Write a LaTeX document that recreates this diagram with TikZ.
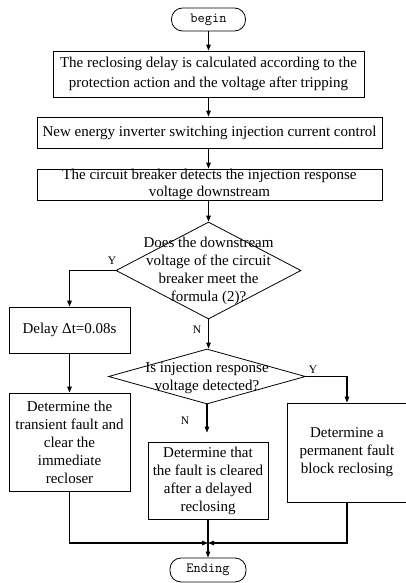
\documentclass[tikz,border=0pt]{standalone}
\usepackage{fontspec}
\setmainfont{Liberation Serif}
\usetikzlibrary{shapes.geometric,shadows,arrows.meta}
\begin{document}
\begin{tikzpicture}[x=1pt,y=-1pt,
  every node/.style={font=\fontsize{15}{18}\selectfont},
  boxnode/.style={draw,line width=0.8pt,fill=white,inner sep=0pt,align=center,
    drop shadow={shadow xshift=1.3pt,shadow yshift=-1.3pt,fill=black!40,opacity=1}},
  termnode/.style={draw,line width=0.8pt,rounded corners=11pt,inner sep=0pt,
    font=\ttfamily\fontsize{14}{16}\selectfont},
  decision/.style={draw,diamond,line width=0.8pt,inner sep=0pt},
  dtext/.style={align=center,inner sep=0pt,font=\fontsize{15}{18}\selectfont},
  yn/.style={font=\fontsize{11.5}{13}\selectfont,inner sep=0pt},
  flow/.style={line width=1.1pt,-{Triangle[length=6pt,width=4.5pt]}},
  plain/.style={line width=1.1pt}]
\useasboundingbox (0,0) rectangle (406,583);
\node[termnode,minimum width=74pt,minimum height=23pt] (begin) at (208.5,19.5) {begin};
\node[boxnode,minimum width=311pt,minimum height=46pt,font=\fontsize{15}{19.5}\selectfont] (b1) at (208.5,74)
  {The reclosing delay is calculated according to the\\protection action and the voltage after tripping};
\node[boxnode,minimum width=345pt,minimum height=31pt] (b2) at (209.5,132.5)
  {New energy inverter switching injection current control};
\node[boxnode,minimum width=345pt,minimum height=31pt,font=\fontsize{15}{17}\selectfont] (b3) at (209.5,184.5)
  {The circuit breaker detects the injection response\\voltage downstream};
\node[decision,minimum width=185pt,minimum height=97pt] (d1) at (208.5,270.5) {};
\node[dtext] (d1t) at (208.5,270.5) {Does the downstream\\voltage of the circuit\\breaker meet the\\formula (2)?};
\node[boxnode,minimum width=121pt,minimum height=46pt] (b4) at (69.5,330) {Delay Δt=0.08s};
\node[decision,minimum width=197pt,minimum height=55pt] (d2) at (207,376.5) {};
\node[dtext] (d2t) at (207,378) {Is injection response\\voltage detected?};
\node[boxnode,minimum width=121pt,minimum height=98pt] (b5) at (69.5,442)
  {Determine the\\transient fault and\\clear the\\immediate\\recloser};
\node[boxnode,minimum width=120pt,minimum height=99pt] (b6) at (347,452.5)
  {Determine a\\permanent fault\\block reclosing};
\node[boxnode,minimum width=120pt,minimum height=77pt] (b7) at (208,480.5)
  {Determine that\\the fault is cleared\\after a delayed\\reclosing};
\node[termnode,minimum width=76pt,minimum height=24pt] (end) at (208,570) {Ending};
\coordinate (j) at (208,543);
\draw[flow] (begin) -- (b1);
\draw[flow] (b1.south -| begin) -- (b2.north -| begin);
\draw[flow] (b2.south -| begin) -- (b3.north -| begin);
\draw[flow] (b3.south -| begin) -- (d1.north);
\draw[flow] (d1.west) -| (b4.north);
\node[yn] (y1) at (112,261) {Y};
\draw[flow] (d1.south) -- (d2.north -| d1.south);
\node[yn] (n1) at (197,330) {N};
\draw[flow] (b4) -- (b5);
\draw[flow] (d2.east) -| (b6.north);
\node[yn] (y2) at (313,370) {Y};
\draw[flow,shorten >=9pt] (d2.south) -- (b7.north -| d2.south);
\node[yn] (n2) at (185,421) {N};
\draw[flow] (b5.south) |- (j);
\draw[flow] (b6.south) |- (j);
\draw[flow] (b7) -- (end);
\end{tikzpicture}
\end{document}
